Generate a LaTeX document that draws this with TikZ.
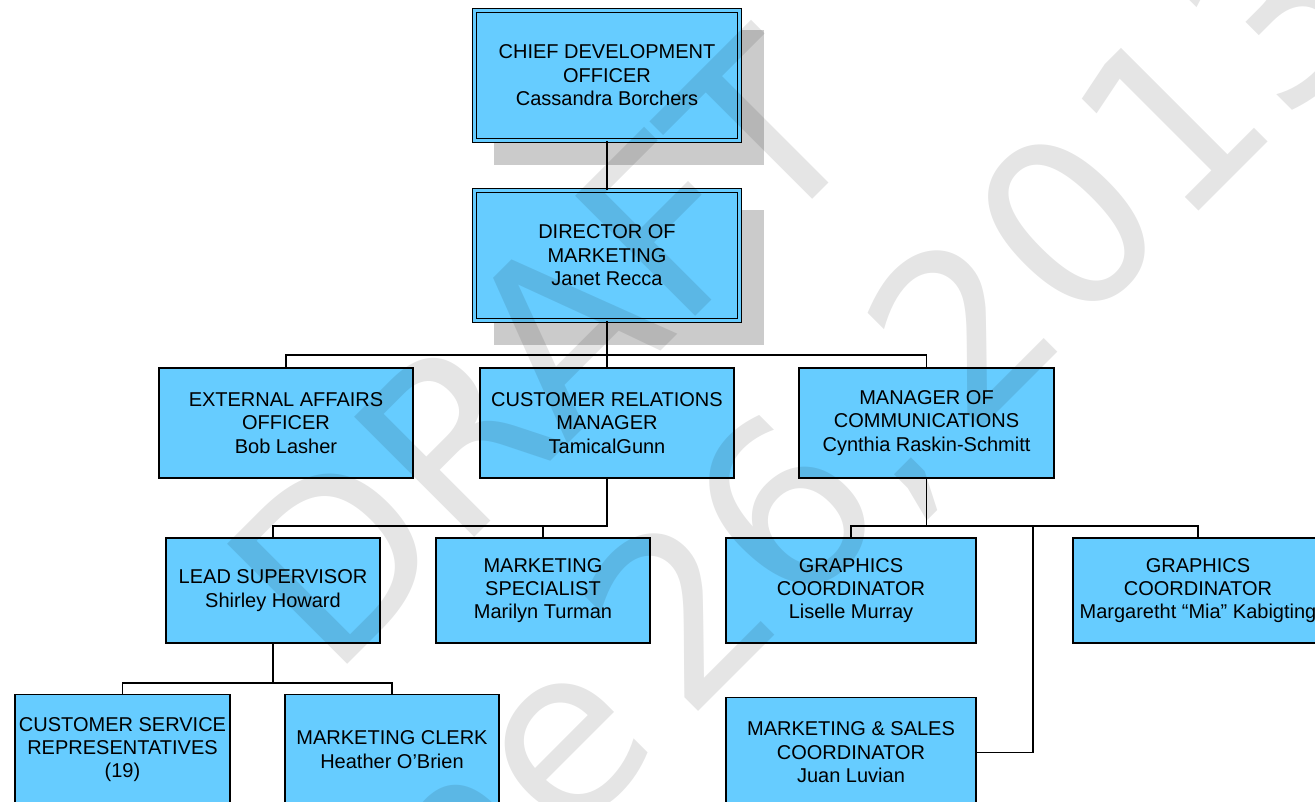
\documentclass[tikz,border=0pt]{standalone}
\usepackage{fontspec}
\setmainfont{Liberation Sans}
\newfontfamily\wmfont{DejaVu Sans}
\definecolor{boxblue}{HTML}{66CCFF}
\definecolor{shadowgray}{HTML}{CBCBCB}

\begin{document}
\begin{tikzpicture}[x=1pt,y=-1pt,
  box/.style={draw=black, line width=1.6pt, fill=boxblue, align=center,
              inner sep=0pt, text=black, font=\fontsize{20}{23.4}\selectfont},
  topbox/.style={box, line width=1.4pt, double=boxblue, double distance=2.2pt,
                 minimum width=265pt, minimum height=130pt},
  midbox/.style={box, minimum width=254.5pt, minimum height=110.5pt},
  lowbox/.style={box, minimum width=214.5pt, minimum height=105.5pt},
  widebox/.style={box, minimum width=250.5pt, minimum height=105.5pt},
  endbox/.style={minimum height=110pt},
  conn/.style={draw=black, line width=1.6pt},
  shadowbox/.style={fill=shadowgray},
  wm/.style={inner sep=0pt, anchor=base west, rotate=45, text=black,
             text opacity=0.1, font=\wmfont\fontsize{233}{240}\selectfont}]

\useasboundingbox (0,0) rectangle (1315,801);
\clip (0,0) rectangle (1315,801);

% drop shadows of the two head boxes
\fill[shadowbox] (494,30) rectangle (764,165);
\fill[shadowbox] (494,210) rectangle (764,345);

% boxes
\node[topbox] (cdo) at (607,75.5) {CHIEF DEVELOPMENT\\OFFICER\\Cassandra Borchers};
\node[topbox] (dom) at (607,255.5) {DIRECTOR OF\\MARKETING\\Janet Recca};

\node[midbox] (eao) at (286,423) {EXTERNAL AFFAIRS\\OFFICER\\Bob Lasher};
\node[midbox] (crm) at (607,423) {CUSTOMER RELATIONS\\MANAGER\\TamicalGunn};
\node[midbox] (moc) at (926.5,423) {MANAGER OF\\COMMUNICATIONS\\Cynthia Raskin-Schmitt};

\node[lowbox] (lead) at (273,590.5) {LEAD SUPERVISOR\\Shirley Howard};
\node[lowbox] (spec) at (543,590.5) {MARKETING\\SPECIALIST\\Marilyn Turman};
\node[widebox] (gc1) at (851,590.5) {GRAPHICS\\COORDINATOR\\Liselle Murray};
\node[widebox] (gc2) at (1198,590.5) {GRAPHICS\\COORDINATOR\\Margaretht “Mia” Kabigting};

\node[lowbox, endbox] (csr) at (122.5,749.5) {CUSTOMER SERVICE\\REPRESENTATIVES\\(19)};
\node[lowbox, endbox] (clerk) at (392,749.5) {MARKETING CLERK\\Heather O'Brien};
\node[widebox, endbox] (msc) at (851,752.5) {MARKETING \& SALES\\COORDINATOR\\Juan Luvian};

% bus levels
\coordinate (busA) at (0,355);
\coordinate (busB) at (0,526);
\coordinate (busC) at (0,683);
\coordinate (drop) at (1033,526);

% connectors
\draw[conn] (cdo.south) -- (dom.north);
\draw[conn] (dom.south) -- (crm.north);
\draw[conn] (dom.south |- busA) -| (eao.north);
\draw[conn] (dom.south |- busA) -| (moc.north);

\draw[conn] (crm.south) -- (crm.south |- busB) -| (lead.north);
\draw[conn] (crm.south |- busB) -| (spec.north);

\draw[conn] (moc.south) -- (moc.south |- busB) -| (gc1.north);
\draw[conn] (moc.south |- busB) -| (gc2.north);
\draw[conn] (drop) |- (msc.east);

\draw[conn] (lead.south) -- (lead.south |- busC) -| (csr.north);
\draw[conn] (lead.south |- busC) -| (clerk.north);

% watermark
\node[wm] (wmdraft) at (331.5,680.5) {DRAFT};
\node[wm] (wmdate) at (306,1104) {June\hskip30pt 26,\hskip30pt 2013};
\end{tikzpicture}
\end{document}
